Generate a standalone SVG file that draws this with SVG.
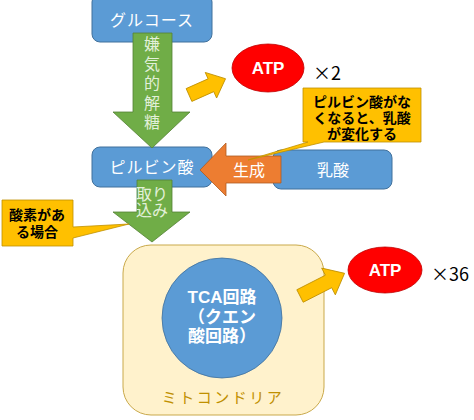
<svg xmlns="http://www.w3.org/2000/svg" width="474" height="420" viewBox="0 0 474 420">
<style>
.box{fill:#5b9bd5;stroke:#41719c;stroke-width:1}
.wt{fill:#ffffff;font-family:"Liberation Sans","Noto Sans CJK JP",sans-serif;font-size:16px;text-anchor:middle;dominant-baseline:central}
.gt{fill:#e2f0d9;font-family:"Liberation Sans","Noto Sans CJK JP",sans-serif;font-size:16px;text-anchor:middle}
.green{fill:#70ad47;stroke:#548235;stroke-width:0.8}
.yel{fill:#ffc000;stroke:#bf9000;stroke-width:0.8}
.org{fill:#ed7d31;stroke:#ae5a21;stroke-width:0.8}
.atp{fill:#ff0000;stroke:#c00000;stroke-width:0.8}
.atpt{fill:#ffffff;font-family:"Liberation Sans",Arial,sans-serif;font-weight:bold;font-size:17px;text-anchor:middle;dominant-baseline:central}
.bt{fill:#000000;font-family:"Liberation Sans","Noto Sans CJK JP",sans-serif;font-weight:bold;font-size:14px;text-anchor:middle}
.tc{fill:#ffffff;font-family:"Liberation Sans","Noto Sans CJK JP",sans-serif;font-weight:bold;font-size:17px;text-anchor:middle}
.mul{fill:#000000;font-family:"Noto Sans CJK JP","Liberation Sans",sans-serif;font-size:18px;dominant-baseline:central}
</style>
<g id="glucose">
<rect class="box" x="92" y="-6" width="120" height="48" rx="8"/>
<text class="wt" x="152" y="20" letter-spacing="1">グルコース</text>
</g>
<g id="mitochondria">
<rect x="123" y="245" width="201" height="170" rx="28" fill="#fff2cc" stroke="#c9a94a" stroke-width="1"/>
<text x="223" y="397" fill="#bf9000" font-family="Liberation Sans,Noto Sans CJK JP,sans-serif" font-size="15" text-anchor="middle" dominant-baseline="central" letter-spacing="2.5">ミトコンドリア</text>
</g>
<g id="tca">
<circle cx="222" cy="318" r="60" fill="#5b9bd5" stroke="#41719c" stroke-width="0.8"/>
<text class="tc" x="222" y="303"><tspan x="222" y="303">TCA回路</tspan><tspan x="222" y="322.5">（クエン</tspan><tspan x="222" y="342">酸回路）</tspan></text>
</g>
<g id="pyruvate">
<rect class="box" x="92" y="147" width="120" height="40" rx="8"/>
<text class="wt" x="152" y="167" letter-spacing="1">ピルビン酸</text>
</g>
<g id="lactate">
<rect class="box" x="273" y="150" width="119" height="39" rx="8"/>
<text class="wt" x="333" y="170">乳酸</text>
</g>
<g id="connectors">
<g id="glycolysis-arrow">
<path class="green" d="M133,33 H172 V112 H190 L152,148 L113,112 H133 Z"/>
<text class="gt" x="152" y="50"><tspan x="152" y="50">嫌</tspan><tspan x="152" y="69.5">気</tspan><tspan x="152" y="89">的</tspan><tspan x="152" y="108.5">解</tspan><tspan x="152" y="128">糖</tspan></text>
</g>
<g id="uptake-arrow">
<path class="green" d="M137,180 H172 V212 H190 L152,242 L113,212 H137 Z"/>
<text class="gt" x="152" y="200" font-size="13"><tspan x="152" y="200">取り</tspan><tspan x="152" y="215.5">込み</tspan></text>
</g>
<g id="produce-arrow">
<path class="org" d="M281,156 H226 V143 L200,170 L226,196 V183 H281 Z"/>
<text class="wt" x="249" y="170">生成</text>
</g>
<path class="yel" transform="translate(189,95) rotate(-24)" d="M0,-7 H24 V-14 L40,0 L24,14 V7 H0 Z"/>
<path class="yel" transform="translate(300,296) rotate(-27)" d="M0,-7 H32 V-15 L50,0 L32,15 V7 H0 Z"/>
</g>
<g id="atp-top">
<ellipse class="atp" cx="268" cy="68" rx="36" ry="24"/>
<text class="atpt" x="268" y="68">ATP</text>
<text class="mul" x="313" y="72">×2</text>
</g>
<g id="atp-bottom">
<ellipse class="atp" cx="385" cy="270" rx="37" ry="23"/>
<text class="atpt" x="385" y="270">ATP</text>
<text class="mul" x="431" y="273">×36</text>
</g>
<g id="callout-lactate">
<path class="yel" d="M303,88 H421 V142 H324 L248,160 L308,142 H303 Z"/>
<text class="bt" x="362" y="107"><tspan x="362" y="107">ピルビン酸がな</tspan><tspan x="362" y="123">くなると、乳酸</tspan><tspan x="362" y="139">が変化する</tspan></text>
</g>
<g id="callout-oxygen">
<path class="yel" d="M2,200 H73 V227 L129,224 L73,238 V246 H2 Z"/>
<text class="bt" x="37" y="220"><tspan x="37" y="220">酸素があ</tspan><tspan x="37" y="237">る場合</tspan></text>
</g>
</svg>
